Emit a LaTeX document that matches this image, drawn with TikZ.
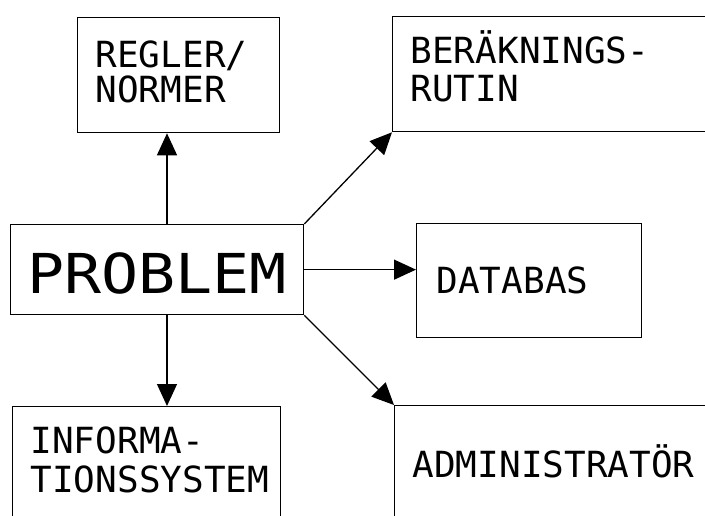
\documentclass[tikz,border=0pt]{standalone}
\usepackage{fontspec}
\usetikzlibrary{arrows.meta}
\newfontfamily\plotfont{DejaVu Sans Mono}
\newfontfamily\plotwide[FakeStretch=1.12]{DejaVu Sans Mono}

\tikzset{
  frame/.style={draw, line width=1.3pt, rectangle, anchor=north west,
    inner xsep=18pt, inner ysep=0pt, align=left,
    text height=26pt, text depth=0pt},
  small/.style={font=\plotfont\fontsize{36}{#1}\selectfont},
  arr/.style={line width=1.3pt, -{Triangle[length=22pt,width=20pt]}}
}

\begin{document}
\begin{tikzpicture}[x=1pt,y=-1pt]
  \useasboundingbox (0,0) rectangle (705,516);
  \clip (0,0) rectangle (705,516);

  % central box
  \node[frame, small=36, align=center, inner xsep=0pt,
        font=\plotwide\fontsize{55}{60}\selectfont,
        text height=48pt, minimum width=293pt, minimum height=90pt]
        (problem) at (10,224) {PROBLEM};

  % surrounding boxes (text depth spans the lines below the first baseline)
  \node[frame, small=35, text depth=41pt, text width=166pt,
        minimum width=202pt, minimum height=115pt]
        (regler) at (77,17) {REGLER/\\NORMER};

  \node[frame, small=38, text depth=47pt, text width=364pt,
        minimum width=400pt, minimum height=115pt]
        (berak) at (392,16) {BERÄKNINGS-\\RUTIN};

  \node[frame, small=36, inner xsep=20pt, text width=185pt,
        minimum width=225pt, minimum height=114pt]
        (databas) at (416,223) {DATABAS};

  \node[frame, small=36, text width=364pt,
        minimum width=400pt, minimum height=118pt]
        (admin) at (394,405) {ADMINISTRATÖR};

  \node[frame, small=39, text depth=79pt, text width=232pt,
        minimum width=268pt, minimum height=147pt]
        (info) at (12,406) {INFORMA-\\TIONSSYSTEM};

  % connectors
  \coordinate (ax) at (167,0);
  \draw[arr] (problem.north -| ax) -- (regler.south -| ax);
  \draw[arr] (problem.south -| ax) -- (info.north -| ax);
  \draw[arr] (problem.east) -- (problem.east -| databas.west);
  \draw[arr] (problem.north east) -- (berak.south west);
  \draw[arr] (problem.south east) -- (admin.north west);
\end{tikzpicture}
\end{document}
